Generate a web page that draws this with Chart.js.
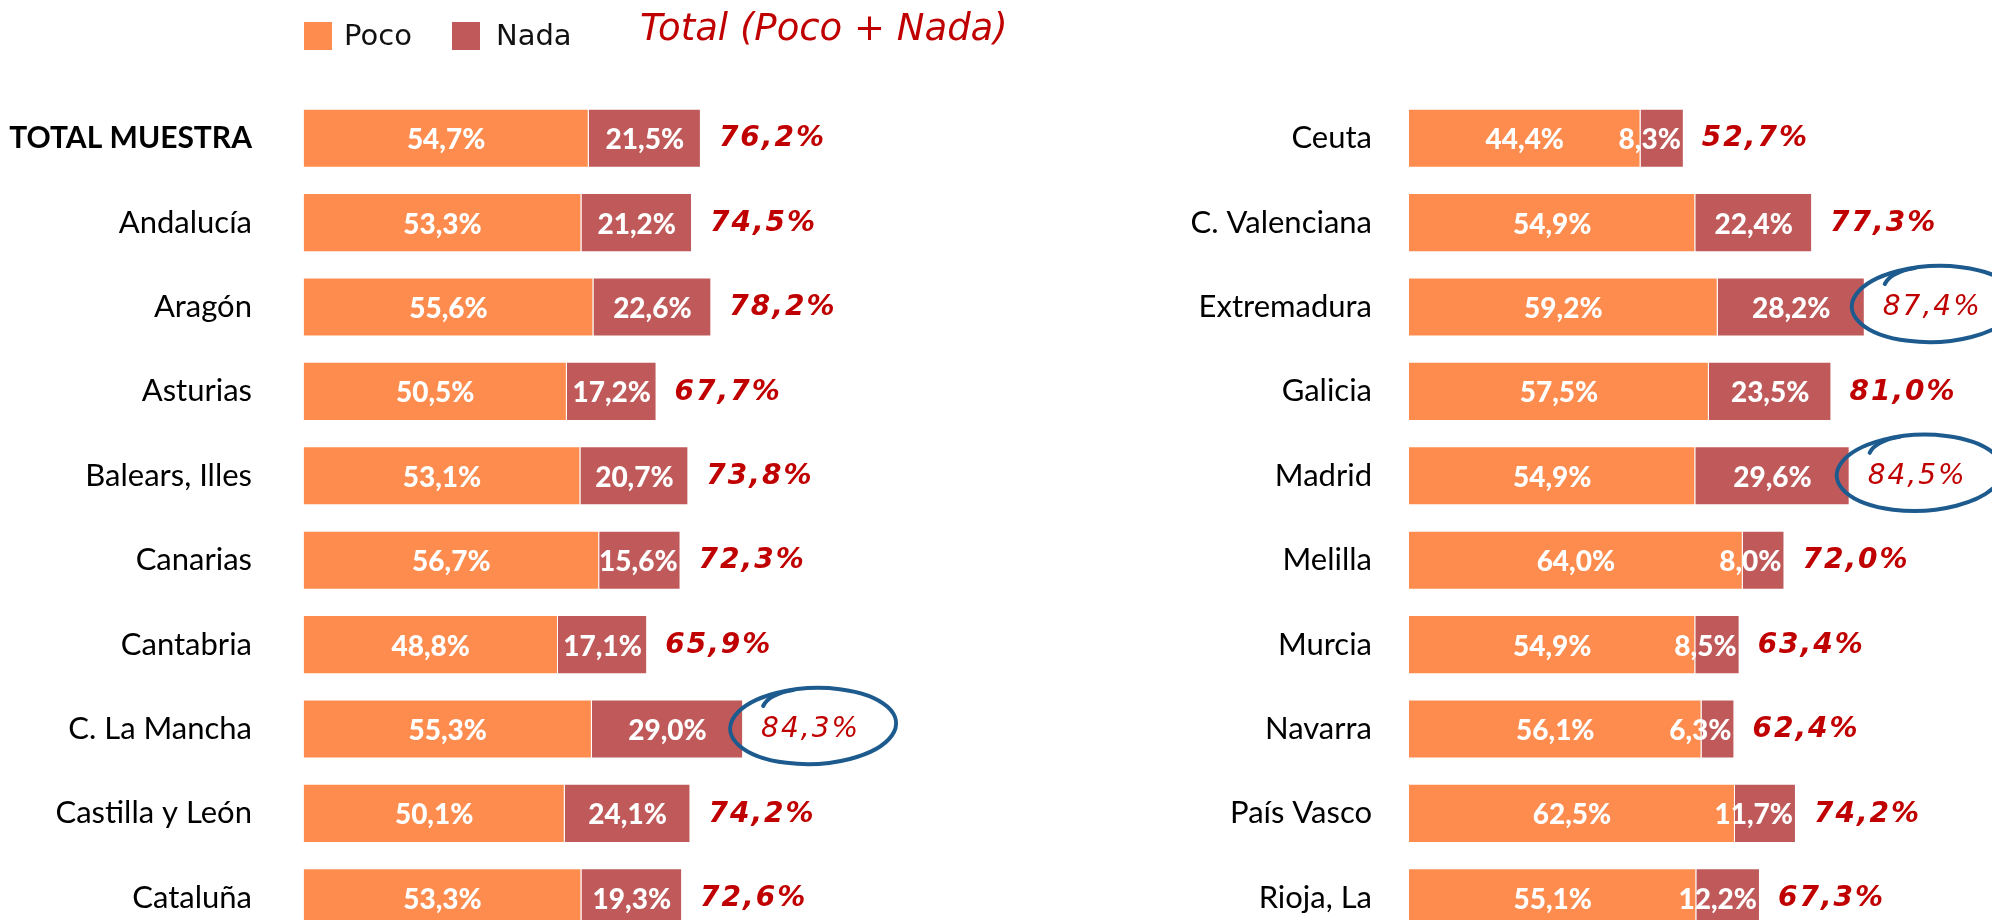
<!DOCTYPE html>
<html>
<head>
<meta charset="utf-8">
<script src="https://cdn.jsdelivr.net/npm/chart.js@4.4.0/dist/chart.umd.min.js"></script>
<style>
  html, body { margin: 0; padding: 0; background: #fff; }
  #wrap { position: relative; width: 1992px; height: 920px; overflow: hidden; }
  canvas { position: absolute; top: 0; }
  #leftChart { left: 0; }
  #rightChart { left: 1000px; }
  .sw { position: absolute; top: 22px; width: 28px; height: 28px; }
  .lg { position: absolute; top: 18px; font: 29px "DejaVu Sans"; line-height: 35px; color: #111; }
  #title { position: absolute; left: 640px; top: 6px; font: italic 37px "DejaVu Sans"; line-height: 44px; color: #C00000; white-space: nowrap; }
</style>
</head>
<body>
<div id="wrap">
  <canvas id="leftChart" width="1000" height="940"></canvas>
  <canvas id="rightChart" width="992" height="940"></canvas>
  <div class="sw" style="left:304px;background:#FD8C4E"></div>
  <div class="lg" style="left:344px">Poco</div>
  <div class="sw" style="left:452px;background:#C05A5A"></div>
  <div class="lg" style="left:496px">Nada</div>
  <div id="title">Total (Poco + Nada)</div>
</div>
<script>
// left block
const leftRegions = ['TOTAL MUESTRA', 'Andalucía', 'Aragón', 'Asturias', 'Balears, Illes', 'Canarias', 'Cantabria', 'C. La Mancha', 'Castilla y León', 'Cataluña'];
const leftPoco = [54.7, 53.3, 55.6, 50.5, 53.1, 56.7, 48.8, 55.3, 50.1, 53.3];
const leftNada = [21.5, 21.2, 22.6, 17.2, 20.7, 15.6, 17.1, 29.0, 24.1, 19.3];
const leftTotal = [76.2, 74.5, 78.2, 67.7, 73.8, 72.3, 65.9, 84.3, 74.2, 72.6];

// right block
const rightRegions = ['Ceuta', 'C. Valenciana', 'Extremadura', 'Galicia', 'Madrid', 'Melilla', 'Murcia', 'Navarra', 'País Vasco', 'Rioja, La'];
const rightPoco = [44.4, 54.9, 59.2, 57.5, 54.9, 64.0, 54.9, 56.1, 62.5, 55.1];
const rightNada = [8.3, 22.4, 28.2, 23.5, 29.6, 8.0, 8.5, 6.3, 11.7, 12.2];
const rightTotal = [52.7, 77.3, 87.4, 81.0, 84.5, 72.0, 63.4, 62.4, 74.2, 67.3];

// totals circled by hand in the original
const circled = ['C. La Mancha', 'Extremadura', 'Madrid'];

const POCO_COLOR = '#FD8C4E';
const NADA_COLOR = '#C05A5A';

const fmt = v => v.toFixed(1).replace('.', ',') + '%';

function drawLoop(ctx, cx, cy) {
    ctx.save();
    ctx.strokeStyle = '#1D5B8F';
    ctx.lineWidth = 4;
    ctx.lineCap = 'round';
    ctx.beginPath();
    ctx.ellipse(cx, cy, 83, 38, -0.04, Math.PI * 1.36, Math.PI * 3.42);
    ctx.stroke();
    // little flick where the pen closed the loop
    ctx.beginPath();
    ctx.moveTo(cx - 50, cy - 20);
    ctx.quadraticCurveTo(cx - 44, cy - 32, cx - 20, cy - 36);
    ctx.stroke();
    ctx.restore();
}

const labelPlugin = {
    id: 'barLabels',
    afterDatasetsDraw(chart, args, opts) {
        const ctx = chart.ctx;
        ctx.save();
        ctx.textBaseline = 'middle';
        ctx.textAlign = 'center';
        ctx.font = '900 28px Lato';
        ctx.fillStyle = '#fff';
        chart.data.datasets.forEach((ds, di) => {
            chart.getDatasetMeta(di).data.forEach((bar, i) => {
                const txt = fmt(ds.data[i]);
                const w = ctx.measureText(txt).width;
                let cx = (bar.x + bar.base) / 2;
                if (w + 6 > bar.x - bar.base) cx = bar.x - 3 - w / 2;
                ctx.fillText(txt, cx, bar.y + 2);
            });
        });

        // totals next to the bars
        const ends = chart.getDatasetMeta(1).data;
        ctx.textAlign = 'left';
        ctx.fillStyle = '#C00000';
        ctx.letterSpacing = '2px';
        ends.forEach((bar, i) => {
            const name = chart.data.labels[i];
            const hot = circled.includes(name);
            ctx.font = (hot ? 'italic ' : 'bold italic ') + '28px "DejaVu Sans"';
            const x = bar.x + 18;
            ctx.fillText(fmt(opts.totals[i]), x, bar.y + 1);
            if (hot) drawLoop(ctx, x + 52, bar.y - 3);
        });
        ctx.restore();
    }
};

function makeChart(id, regions, poco, nada, totals, axisWidth, tickPad, padRight) {
    return new Chart(document.getElementById(id), {
        type: 'bar',
        data: {
            labels: regions,
            datasets: [
                { label: 'Poco', data: poco, backgroundColor: POCO_COLOR, borderColor: 'rgba(255,255,255,0.45)', borderWidth: 1 },
                { label: 'Nada', data: nada, backgroundColor: NADA_COLOR, borderColor: 'rgba(255,255,255,0.45)', borderWidth: 1 }
            ]
        },
        options: {
            indexAxis: 'y',
            responsive: false,
            animation: false,
            categoryPercentage: 1,
            barPercentage: 0.7,
            layout: { padding: { top: 96, bottom: 0, left: 0, right: padRight } },
            plugins: {
                legend: { display: false },
                tooltip: { enabled: false },
                barLabels: { totals: totals }
            },
            scales: {
                x: { stacked: true, min: 0, max: 100, display: false },
                y: {
                    stacked: true,
                    grid: { display: false, drawTicks: false },
                    border: { display: false },
                    afterFit: s => {
                        s.width = axisWidth;
                        // tick padding must not eat into the plot height
                        s.paddingTop = 0;
                        s.paddingBottom = 0;
                    },
                    ticks: {
                        padding: tickPad,
                        color: '#000',
                        font: c => (id === 'leftChart' && c.index === 0)
                            ? { family: 'Lato', size: 30, weight: 'bold' }
                            : { family: 'Lato', size: 31, weight: 'normal' }
                    }
                }
            }
        },
        plugins: [labelPlugin]
    });
}

makeChart('leftChart', leftRegions, leftPoco, leftNada, leftTotal, 303.5, 51.5, 1000 - 303.5 - 521.5);
makeChart('rightChart', rightRegions, rightPoco, rightNada, rightTotal, 409, 37, 992 - 409 - 521.5);
</script>
</body>
</html>
